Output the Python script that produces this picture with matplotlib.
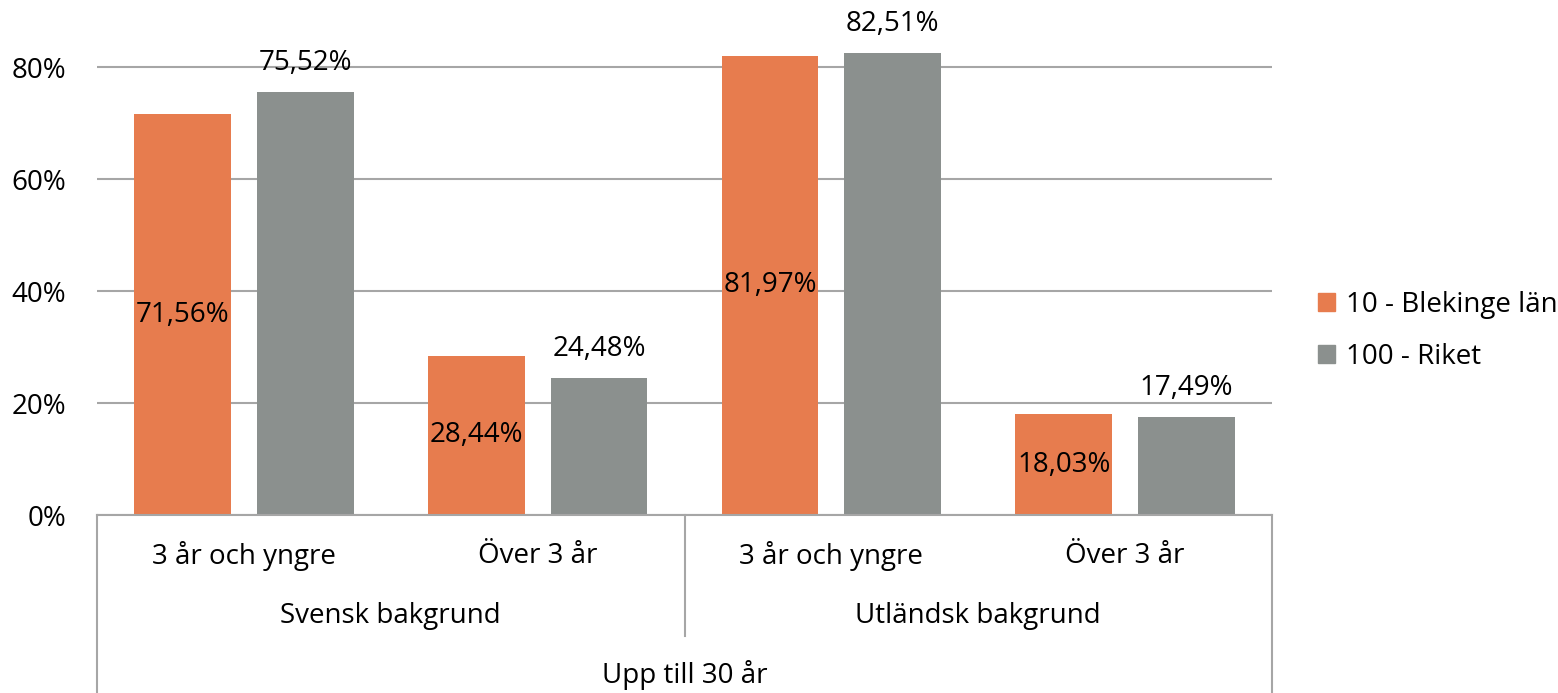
import numpy as np
import matplotlib
matplotlib.use("Agg")
import matplotlib.pyplot as plt
from matplotlib.patches import Patch
from matplotlib.transforms import blended_transform_factory

plt.rcParams['font.family'] = ['Open Sans', 'DejaVu Sans']

# data
sub_labels = ["3 år och yngre", "Över 3 år", "3 år och yngre", "Över 3 år"]
group_labels = ["Svensk bakgrund", "Utländsk bakgrund"]
top_label = "Upp till 30 år"
series_names = ["10 - Blekinge län", "100 - Riket"]
blekinge = [71.56, 28.44, 81.97, 18.03]
riket = [75.52, 24.48, 82.51, 17.49]
yticks = [0, 20, 40, 60, 80]

ORANGE = "#E77C4E"
GREY = "#8B908E"
LINE = "#A6A6A6"

W, H = 1558, 693
fig = plt.figure(figsize=(W / 100, H / 100), dpi=100)
ax = fig.add_axes([97 / W, 178 / H, (1272 - 97) / W, 504 / H])

x = np.arange(len(sub_labels))
bw, off = 0.33, 0.209
ax.bar(x - off, blekinge, bw, color=ORANGE, zorder=3)
ax.bar(x + off, riket, bw, color=GREY, zorder=3)

fs = 20
for xi, v in zip(x - off, blekinge):
    ax.text(xi, v / 2, f"{v:.2f}%".replace(".", ","), ha="center", va="center", fontsize=fs, zorder=4)
for xi, v in zip(x + off, riket):
    ax.annotate(f"{v:.2f}%".replace(".", ","), (xi, v), xytext=(0, 21), textcoords="offset points",
                ha="center", va="center", fontsize=fs)

ax.set_xlim(-0.5, 3.5)
ax.set_ylim(0, 90)
ax.set_yticks(yticks)
ax.set_yticklabels([f"{t}%" for t in yticks], fontsize=fs)
ax.tick_params(axis="y", length=0, pad=22)
ax.set_xticks([])
for s in ax.spines.values():
    s.set_visible(False)
ax.yaxis.grid(True, color=LINE, lw=1.5, zorder=0)
ax.axhline(0, color=LINE, lw=1.5, zorder=5, clip_on=False)

# multi-level category axis
tr = blended_transform_factory(ax.transData, fig.transFigure)
y0 = 178 / H
for xv, ybot in [(-0.5, 0), (1.5, (H - 636) / H), (3.5, 0)]:
    ax.plot([xv, xv], [y0, ybot], transform=tr, color=LINE, lw=1.5, clip_on=False)
for xi, lab in zip(x, sub_labels):
    ax.text(xi, (H - 556) / H, lab, transform=tr, ha="center", va="center", fontsize=fs)
for gi, lab in enumerate(group_labels):
    ax.text(0.5 + 2 * gi, (H - 616) / H, lab, transform=tr, ha="center", va="center", fontsize=fs)
ax.text(1.5, (H - 675) / H, top_label, transform=tr, ha="center", va="center", fontsize=fs)

handles = [Patch(color=ORANGE), Patch(color=GREY)]
fig.legend(handles, series_names, loc="center left", bbox_to_anchor=(1293 / W, 1 - 331 / H),
           frameon=False, fontsize=fs, handlelength=0.62, handleheight=0.62,
           handletextpad=0.4, labelspacing=0.85)

fig.savefig("out.png", dpi=100)
